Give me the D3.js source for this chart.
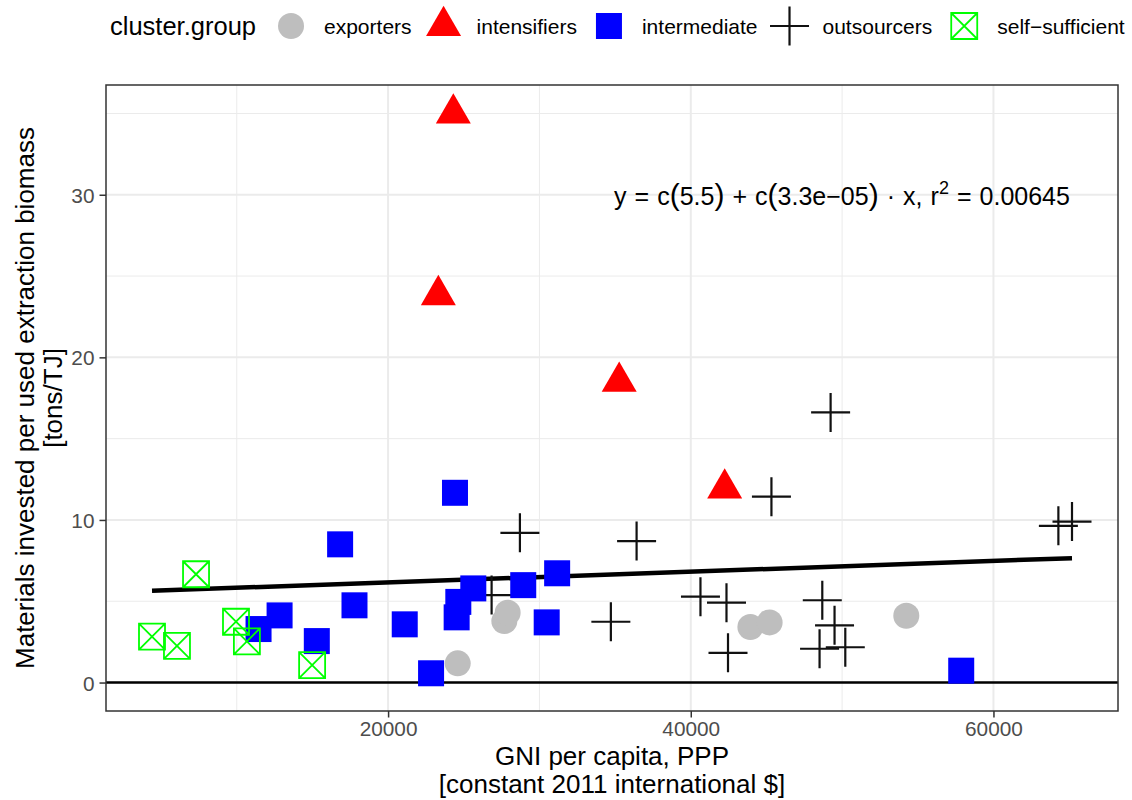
<!DOCTYPE html>
<html><head><meta charset="utf-8">
<script src="https://cdn.jsdelivr.net/npm/d3@7"></script>
<style>body{margin:0;background:#fff}svg{display:block;font-family:"Liberation Sans",Arial,Helvetica,sans-serif}</style>
</head><body>
<svg id="chart" width="1132" height="800"></svg>
<script>
// ---- data ----
const groups = ["exporters", "intensifiers", "intermediate", "outsourcers", "self-sufficient"];
const groupLabels = ["exporters", "intensifiers", "intermediate", "outsourcers", "self\u2212sufficient"];

const exportersX = [24600, 27680, 27900, 43940, 45210, 54240];
const exportersY = [1.18, 3.78, 4.30, 3.42, 3.70, 4.11];

const intensifiersX = [24310, 23320, 35270, 42240];
const intensifiersY = [35.0, 23.83, 18.5, 11.94];

const intermediateX = [16830, 12830, 11440, 17780, 15290, 21100, 22840, 24420, 24640, 24530, 25630, 28930, 31170, 30480, 57870];
const intermediateY = [8.50, 4.13, 3.29, 4.75, 2.55, 3.58, 0.57, 11.67, 4.96, 4.01, 5.79, 5.99, 6.72, 3.70, 0.73];

const outsourcersX = [28710, 36420, 34720, 26840, 40640, 42360, 42460, 49240, 45330, 64290, 65190, 48690, 49500, 48510, 50210];
const outsourcersY = [9.21, 8.70, 3.74, 5.38, 5.28, 4.91, 1.83, 16.61, 11.43, 9.64, 9.90, 5.06, 3.52, 2.08, 2.17];

const selfSufficientX = [7310, 4400, 6050, 9950, 10670, 14980];
const selfSufficientY = [6.66, 2.82, 2.26, 3.74, 2.53, 1.07];

const fitIntercept = 5.5;
const fitSlope = 3.3e-5;
const xTicks = [20000, 40000, 60000];
const xMinor = [10000, 30000, 50000];
const yTicks = [0, 10, 20, 30];
const yMinor = [5, 15, 25, 35];

// ---- build ----
const seriesX = {exporters: exportersX, intensifiers: intensifiersX, intermediate: intermediateX, outsourcers: outsourcersX, "self-sufficient": selfSufficientX};
const seriesY = {exporters: exportersY, intensifiers: intensifiersY, intermediate: intermediateY, outsourcers: outsourcersY, "self-sufficient": selfSufficientY};
const pts = [];
groups.forEach(g => seriesX[g].forEach((x, i) => pts.push({g, x, y: seriesY[g][i]})));

const svg = d3.select("#chart");
const L = 106, R = 1118, T = 85, B = 711;
const xExt = d3.extent(pts, d => d.x);
const xr = xExt[1] - xExt[0];
const x = d3.scaleLinear().domain([xExt[0] - 0.05 * xr, xExt[1] + 0.05 * xr]).range([L, R]);
const yExt = d3.extent(pts.map(d => d.y).concat([0]));
const yr = yExt[1] - yExt[0];
const y = d3.scaleLinear().domain([yExt[0] - 0.05 * yr, yExt[1] + 0.05 * yr]).range([B, T]);

const grid = svg.append("g");
xMinor.forEach(v => grid.append("line").attr("x1", x(v)).attr("x2", x(v)).attr("y1", T).attr("y2", B).attr("stroke", "#EBEBEB").attr("stroke-width", 1));
yMinor.forEach(v => grid.append("line").attr("y1", y(v)).attr("y2", y(v)).attr("x1", L).attr("x2", R).attr("stroke", "#EBEBEB").attr("stroke-width", 1));
xTicks.forEach(v => grid.append("line").attr("x1", x(v)).attr("x2", x(v)).attr("y1", T).attr("y2", B).attr("stroke", "#EBEBEB").attr("stroke-width", 2));
yTicks.forEach(v => grid.append("line").attr("y1", y(v)).attr("y2", y(v)).attr("x1", L).attr("x2", R).attr("stroke", "#EBEBEB").attr("stroke-width", 2));

// hline at 0
svg.append("line").attr("x1", L).attr("x2", R).attr("y1", y(0)).attr("y2", y(0)).attr("stroke", "#000").attr("stroke-width", 2.5);

// regression line
const lineData = xExt.map(v => ({x: v, y: fitIntercept + fitSlope * v}));
svg.append("path").datum(lineData)
  .attr("d", d3.line().x(d => x(d.x)).y(d => y(d.y)))
  .attr("stroke", "#000").attr("stroke-width", 4.5).attr("fill", "none");

// symbols
function drawSymbol(sel, g) {
  if (g === "exporters") {
    sel.append("circle").attr("r", 13).attr("fill", "#BEBEBE");
  } else if (g === "intensifiers") {
    const s = 35, h = s * Math.sqrt(3) / 2;
    sel.append("path").attr("d", `M0,${-2 * h / 3}L${s / 2},${h / 3}L${-s / 2},${h / 3}Z`).attr("fill", "#FF0000");
  } else if (g === "intermediate") {
    sel.append("rect").attr("x", -13).attr("y", -13).attr("width", 26).attr("height", 26).attr("fill", "#0000FF");
  } else if (g === "outsourcers") {
    sel.append("path").attr("d", "M-19.5,0H19.5M0,-19.5V19.5").attr("stroke", "#111").attr("stroke-width", 2.2).attr("fill", "none");
  } else {
    sel.append("path").attr("d", "M-13,-13H13V13H-13ZM-13,-13L13,13M13,-13L-13,13").attr("stroke", "#00FF00").attr("stroke-width", 1.8).attr("fill", "none");
  }
}
const order = ["outsourcers", "exporters", "intermediate", "self-sufficient", "intensifiers"];
order.forEach(g => {
  svg.append("g").selectAll("g").data(pts.filter(d => d.g === g)).join("g")
    .attr("transform", d => `translate(${x(d.x)},${y(d.y)})`)
    .each(function () { drawSymbol(d3.select(this), g); });
});

// panel border
svg.append("rect").attr("x", L).attr("y", T).attr("width", R - L).attr("height", B - T).attr("fill", "none").attr("stroke", "#333").attr("stroke-width", 1.5);

// axes
const xAxis = d3.axisBottom(x).tickValues(xTicks).tickFormat(d3.format("d")).tickSize(6.5).tickPadding(4);
const gx = svg.append("g").attr("transform", `translate(0,${B})`).call(xAxis);
const yAxis = d3.axisLeft(y).tickValues(yTicks).tickFormat(d3.format("d")).tickSize(6.5).tickPadding(5);
const gy = svg.append("g").attr("transform", `translate(${L},0)`).call(yAxis);
[gx, gy].forEach(g => {
  g.select(".domain").remove();
  g.selectAll(".tick line").attr("stroke", "#333").attr("stroke-width", 1.5);
  g.selectAll(".tick text").attr("fill", "#4D4D4D").style("font-size", "20.8px").style("font-family", "Liberation Sans, Arial, sans-serif");
});
gy.selectAll(".tick text").attr("dy", "0.36em");

// axis titles
const xt = svg.append("text").attr("text-anchor", "middle").style("font-size", "26px").attr("fill", "#000");
xt.append("tspan").attr("x", (L + R) / 2).attr("y", 765).text("GNI per capita, PPP");
xt.append("tspan").attr("x", (L + R) / 2).attr("y", 793).text("[constant 2011 international $]");
const yt = svg.append("text").attr("text-anchor", "middle").style("font-size", "26px").attr("fill", "#000")
  .attr("transform", `translate(0,${(T + B) / 2}) rotate(-90)`);
yt.append("tspan").attr("x", 0).attr("y", 34).text("Materials invested per used extraction biomass");
yt.append("tspan").attr("x", 0).attr("y", 62).text("[tons/TJ]");

// equation label (plotmath-like: larger parentheses, wider operator spacing)
const eq = svg.append("text").attr("x", 614).attr("y", 205).style("font-size", "25px").attr("fill", "#000");
const parts = [
  ["y = c", 25], ["(", 30], ["5.5", 25], [")", 30], [" + c", 25], ["(", 30], ["3.3e\u221205", 25], [")", 30],
  [" \u00B7 x,  r", 25], ["2", 18, -11], [" = 0.00645", 25, 11]
];
parts.forEach(p => {
  const t = eq.append("tspan").style("font-size", p[1] + "px").text(p[0]);
  if (p[2]) t.attr("dy", p[2]);
});
const natural = eq.node().getComputedTextLength();
const nSpaces = (eq.text().match(/ /g) || []).length;
eq.attr("word-spacing", Math.max(0, (457 - natural) / nSpaces));

// legend
const lg = svg.append("g");
const title = lg.append("text").attr("x", 110).attr("y", 35).style("font-size", "25.5px").attr("fill", "#000").text("cluster.group");
let cx = 110 + title.node().getComputedTextLength() + 35;
groups.forEach((g, i) => {
  const k = lg.append("g").attr("transform", `translate(${cx},26)`);
  drawSymbol(k, g);
  const t = lg.append("text").attr("x", cx + 33).attr("y", 33.5).style("font-size", "21px").attr("fill", "#000").text(groupLabels[i]);
  cx = cx + 33 + t.node().getComputedTextLength() + 32;
});
</script>
</body></html>
